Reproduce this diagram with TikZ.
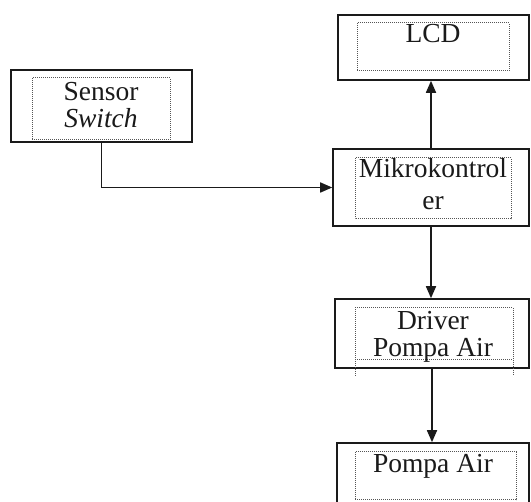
\documentclass[tikz,border=0pt]{standalone}
\usepackage{fontspec}
\setmainfont{Liberation Serif}
\usepackage{tikz}
\usetikzlibrary{arrows.meta,positioning,calc}
\definecolor{ink}{HTML}{1A1A1A}
\definecolor{dotgray}{HTML}{555555}

\tikzset{
  outerbox/.style={draw=ink,line width=1.6pt,minimum width=#1,inner sep=0pt},
  boxtext/.style={font=\fontsize{27.5}{27}\selectfont,text=ink,align=center,anchor=base,inner sep=0pt},
  dotframe/.style={draw=dotgray,line width=1pt,dash pattern=on 1pt off 1pt},
  link/.style={draw=ink,line width=1.7pt,-{Triangle[length=12pt,width=10pt]}}
}

\begin{document}
\begin{tikzpicture}[x=1pt,y=1pt]
  \useasboundingbox (0,0) rectangle (531,-502);

  % Outer frames of the blocks.
  \node[outerbox=181pt,minimum height=72pt] (sensor) at (101.5,-106) {};
  \node[outerbox=191pt,minimum height=65pt] (lcd) at (433.5,-47.5) {};
  \node[outerbox=196pt,minimum height=77pt] (mikro) at (431,-187.5) {};
  \node[outerbox=194pt,minimum height=69pt] (driver) at (432,-333.5) {};
  \node[outerbox=192pt,minimum height=72pt] (pompa) at (433,-479) {};

  % Dotted text frames.
  \draw[dotframe] (32,-78) rectangle (170,-140);
  \draw[dotframe] (357,-23) rectangle (509,-71);
  \draw[dotframe] (355,-158) rectangle (511,-219);
  \draw[dotframe] (355,-376) -- (355,-308) -- (513,-308) -- (513,-376);
  \draw[dotframe] (355,-360) -- (513,-360);
  \draw[dotframe] (355,-452) rectangle (516,-500);

  % Multi-line labels sit on the baseline of their last line.
  \node[boxtext] (sensorlab) at (101,-128) {Sensor\\\textit{Switch}};
  \node[boxtext] (lcdlab) at (433,-43) {LCD};
  \node[boxtext] (mikrolab) at (433,-210) {Mikrokontrol\\[5pt]er};
  \node[boxtext] (driverlab) at (433,-357) {Driver\\Pompa Air};
  \node[boxtext] (pompalab) at (433,-473) {Pompa Air};

  \draw[link] (sensor.south) |- (mikro.west);
  \draw[link] (mikro.north) -- (mikro.north |- lcd.south);
  \draw[link] (mikro.south) -- (mikro.south |- driver.north);
  \draw[link] (driver.south) -- (driver.south |- pompa.north);
\end{tikzpicture}
\end{document}
